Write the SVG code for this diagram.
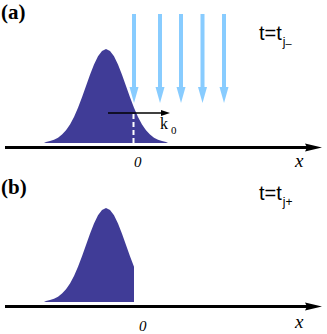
<svg xmlns="http://www.w3.org/2000/svg" xmlns:xlink="http://www.w3.org/1999/xlink" width="327" height="334" viewBox="0 0 327 334">
<style>
.lbl{font-family:"Liberation Serif","Times New Roman",serif;font-weight:bold;font-size:21px;fill:#000}
.ital{font-family:"Liberation Serif","Times New Roman",serif;font-style:italic;font-size:15px;fill:#000}
.xl{font-family:"Liberation Serif","Times New Roman",serif;font-style:italic;font-size:19px;fill:#000}
.tt{font-family:"Liberation Sans",Arial,sans-serif;font-size:20px;fill:#000}
.sub{font-size:12px}
.k{font-family:"Liberation Serif","Times New Roman",serif;font-size:16px;fill:#000}
.gauss{fill:#403C97}
.axis{stroke:#000;stroke-width:3;fill:none}
</style>
<defs>
<g id="bluearrow">
<rect x="-2" y="14" width="4" height="74" fill="#88CCFF"/>
<polygon points="-4.5,87 4.5,87 0,103" fill="#88CCFF"/>
</g>
<g id="xaxis">
<line x1="5" y1="0" x2="310" y2="0" class="axis"/>
<polygon points="305,-4 322,0 305,4 307,0" fill="#000"/>
</g>
</defs>

<g id="panel-a">
<text class="lbl" x="1" y="19">(a)</text>
<g id="gaussian-a">
<path class="gauss" d="M44,143 L46,142 L50,141.1 L54,139.8 L58,137.7 L62,134.6 L66,130.3 L70,124.4 L74,116.9 L78,107.7 L82,97.3 L86,86 L90,74.7 L94,64.5 L98,56.2 L102,50.9 L106,49 L110,50.9 L114,56.2 L118,64.5 L122,74.7 L126,86 L130,97.3 L134,107.7 L138,116.9 L142,124.4 L146,130.3 L150,134.6 L154,137.7 L158,139.8 L162,141.1 L166,142 L168,143 Z"/>
<line x1="133.5" y1="114" x2="133.5" y2="143" stroke="#fff" stroke-width="2" stroke-dasharray="5,3"/>
</g>
<g id="light-arrows">
<use xlink:href="#bluearrow" x="134" y="0"/>
<use xlink:href="#bluearrow" x="160" y="0"/>
<use xlink:href="#bluearrow" x="181" y="0"/>
<use xlink:href="#bluearrow" x="202.5" y="0"/>
<use xlink:href="#bluearrow" x="224" y="0"/>
</g>
<g id="k0">
<line x1="108" y1="113" x2="163" y2="113" stroke="#000" stroke-width="1.5"/>
<polygon points="161,110 170,113 161,116" fill="#000"/>
<text class="k" x="160" y="129">k<tspan font-size="11" dx="3" dy="5">0</tspan></text>
</g>
<g id="axis-a">
<use xlink:href="#xaxis" x="0" y="147.5"/>
<text class="ital" x="134" y="167">0</text>
<text class="xl" x="295" y="167">x</text>
</g>
<text class="tt" x="259" y="40">t=t<tspan class="sub" dx="1" dy="6">j</tspan><tspan font-size="11" dy="1">–</tspan></text>
</g>

<g id="panel-b">
<text class="lbl" x="1" y="194">(b)</text>
<g id="gaussian-b">
<path class="gauss" transform="translate(0,159)" d="M44,143 L46,142 L50,141.1 L54,139.8 L58,137.7 L62,134.6 L66,130.3 L70,124.4 L74,116.9 L78,107.7 L82,97.3 L86,86 L90,74.7 L94,64.5 L98,56.2 L102,50.9 L106,49 L110,50.9 L114,56.2 L118,64.5 L122,74.7 L126,86 L130,97.3 L134,107.7 L134,143 Z"/>
</g>
<g id="axis-b">
<use xlink:href="#xaxis" x="0" y="306.5"/>
<text class="ital" x="139" y="331">0</text>
<text class="xl" x="295" y="328">x</text>
</g>
<text class="tt" x="259" y="200">t=t<tspan class="sub" dx="1" dy="6">j</tspan><tspan font-size="12" dy="0">+</tspan></text>
</g>
</svg>
